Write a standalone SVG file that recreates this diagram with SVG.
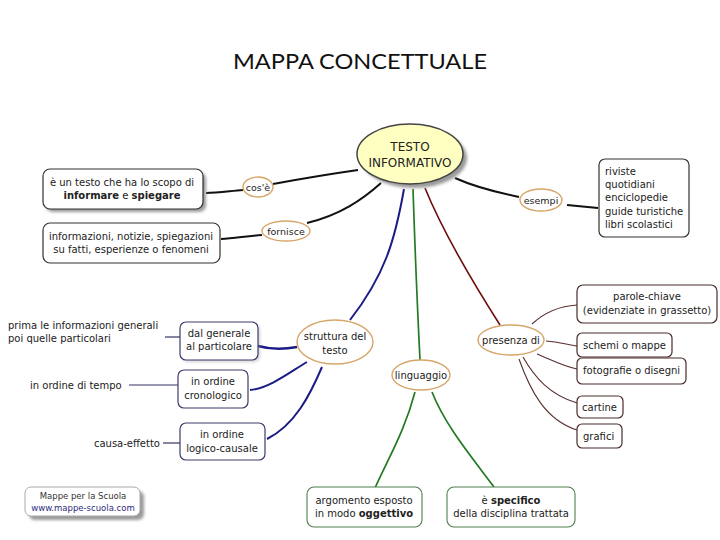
<svg xmlns="http://www.w3.org/2000/svg" width="720" height="540" viewBox="0 0 720 540">
<defs>
<filter id="blur" x="-20%" y="-20%" width="140%" height="140%"><feGaussianBlur stdDeviation="1.6"/></filter>
<style>
text{font-family:"DejaVu Sans",Verdana,sans-serif;font-size:10px;fill:#222}
.c{text-anchor:middle}
.b{font-weight:bold}
.title{font-family:Lato,"Liberation Sans",Arial,sans-serif;font-size:22px;fill:#111;text-anchor:middle}
.lbl{fill:#fff;stroke:#d6a66a;stroke-width:1.4}
.blk{fill:#fff;stroke:#333;stroke-width:1.2}
.blu{fill:#fff;stroke:#3c3c6c;stroke-width:1.2}
.brn{fill:#fff;stroke:#4a2c2c;stroke-width:1.2}
.grn{fill:#fff;stroke:#4f7f4f;stroke-width:1.1}
.shd{fill:#9a9a9a;filter:url(#blur)}
#connectors path{fill:none}
.kb{stroke:#111;stroke-width:2}
.kblue{stroke:#1c1c86;stroke-width:2}
.kgreen{stroke:#237a23;stroke-width:1.7}
.kred{stroke:#6e0c0c;stroke-width:1.6}
.kbrown{stroke:#5a2e2e;stroke-width:1.1}
.kthin{stroke:#333366;stroke-width:1.2}
</style>
</defs>
<rect width="720" height="540" fill="#fff"/>
<text class="title" x="360" y="69" textLength="254" lengthAdjust="spacingAndGlyphs">MAPPA CONCETTUALE</text>

<g id="connectors">
<path class="kb" d="M358,170 C330,174 300,179 273,184"/>
<path class="kb" d="M243,190 C230,191 218,193 206,193"/>
<path class="kb" d="M381,183 C362,200 340,215 307,223"/>
<path class="kb" d="M262,235 C248,236 235,238 221,239"/>
<path class="kb" d="M455,178 C475,187 495,192 519,197"/>
<path class="kb" d="M567,205 C578,206 588,207 598,208"/>
<path class="kblue" d="M404,189 C395,240 385,275 350,320"/>
<path class="kblue" style="stroke-width:2.6" d="M297,347 Q276,351 258,346"/>
<path class="kblue" d="M307,362 C290,372 270,388 250,390"/>
<path class="kblue" d="M322,367 C310,395 295,425 267,439"/>
<path class="kgreen" d="M413,189 Q416,280 420,360"/>
<path class="kgreen" d="M415,392 C405,430 390,455 375,488"/>
<path class="kgreen" d="M432,392 C445,425 470,455 494,487"/>
<path class="kred" d="M425,188 C440,225 465,270 500,325"/>
<path class="kbrown" d="M532,324 C545,312 560,306 577,305"/>
<path class="kbrown" d="M546,341 C560,342 568,345 577,346"/>
<path class="kbrown" d="M537,354 C552,360 562,366 577,369"/>
<path class="kbrown" d="M523,357 C535,378 550,395 577,403"/>
<path class="kbrown" d="M519,359 C530,390 545,420 577,430"/>
<path class="kthin" d="M165,337 L180,337"/>
<path class="kthin" d="M129,385 L178,385"/>
<path class="kthin" d="M163,443 L180,443"/>
</g>

<g id="testo-informativo">
<ellipse class="shd" cx="414" cy="158" rx="53" ry="30"/>
<ellipse cx="410" cy="154" rx="53" ry="30" fill="#ffffc2" stroke="#444" stroke-width="1.5"/>
<text class="c" x="410" y="151" style="font-size:12px">TESTO</text>
<text class="c" x="410" y="167" style="font-size:12px">INFORMATIVO</text>
</g>

<g id="cose">
<ellipse class="lbl" cx="258" cy="187" rx="15" ry="10"/>
<text class="c" x="258" y="191" style="font-size:9.5px">cos'è</text>
</g>
<g id="box-scopo">
<rect class="shd" x="46" y="172" width="160" height="40" rx="7"/>
<rect class="blk" x="43" y="169" width="160" height="40" rx="7"/>
<text class="c" x="122" y="186">è un testo che ha lo scopo di</text>
<text class="c" x="122" y="199"><tspan class="b">informare</tspan> e <tspan class="b">spiegare</tspan></text>
</g>

<g id="fornisce">
<ellipse class="lbl" cx="286" cy="231" rx="24" ry="10"/>
<text class="c" x="286" y="235" style="font-size:9.5px">fornisce</text>
</g>
<g id="box-informazioni">
<rect class="blk" x="43" y="223" width="177" height="40" rx="7"/>
<text class="c" x="131" y="240">informazioni, notizie, spiegazioni</text>
<text class="c" x="131" y="253">su fatti, esperienze o fenomeni</text>
</g>

<g id="esempi">
<ellipse class="lbl" cx="541" cy="200" rx="21" ry="11"/>
<text class="c" x="541" y="204" style="font-size:9.5px">esempi</text>
</g>
<g id="box-esempi">
<rect class="blk" x="599" y="159" width="90" height="78" rx="6"/>
<text x="605" y="175">riviste</text>
<text x="605" y="188">quotidiani</text>
<text x="605" y="201">enciclopedie</text>
<text x="605" y="215">guide turistiche</text>
<text x="605" y="228">libri scolastici</text>
</g>

<g id="struttura">
<ellipse class="lbl" cx="335" cy="342" rx="38" ry="22"/>
<text class="c" x="335" y="340">struttura del</text>
<text class="c" x="335" y="354">testo</text>
</g>
<g id="box-generale">
<rect class="shd" x="182" y="324" width="78" height="38" rx="6" style="opacity:.45"/>
<rect class="blu" x="180" y="322" width="78" height="38" rx="6"/>
<text class="c" x="219" y="337">dal generale</text>
<text class="c" x="219" y="350">al particolare</text>
</g>
<g id="box-cronologico">
<rect class="blu" x="178" y="370" width="70" height="38" rx="6"/>
<text class="c" x="213" y="385">in ordine</text>
<text class="c" x="213" y="399">cronologico</text>
</g>
<g id="box-logico">
<rect class="blu" x="180" y="423" width="85" height="37" rx="6"/>
<text class="c" x="222" y="438">in ordine</text>
<text class="c" x="222" y="452">logico-causale</text>
</g>
<g id="txt-prima">
<text x="8" y="329">prima le informazioni generali</text>
<text x="8" y="342">poi quelle particolari</text>
</g>
<g id="txt-tempo">
<text x="30" y="389">in ordine di tempo</text>
</g>
<g id="txt-causa">
<text x="160" y="447" style="text-anchor:end">causa-effetto</text>
</g>

<g id="linguaggio">
<ellipse class="lbl" cx="421" cy="375" rx="29" ry="15"/>
<text class="c" x="421" y="379">linguaggio</text>
</g>
<g id="box-oggettivo">
<rect class="grn" x="307" y="487" width="115" height="40" rx="7"/>
<text class="c" x="364" y="504">argomento esposto</text>
<text class="c" x="364" y="517">in modo <tspan class="b">oggettivo</tspan></text>
</g>
<g id="box-specifico">
<rect class="grn" x="447" y="487" width="128" height="40" rx="7"/>
<text class="c" x="511" y="504">è <tspan class="b">specifico</tspan></text>
<text class="c" x="511" y="517">della disciplina trattata</text>
</g>

<g id="presenza">
<ellipse class="lbl" cx="511" cy="340" rx="33" ry="15"/>
<text class="c" x="511" y="344">presenza di</text>
</g>
<g id="box-parole">
<rect class="brn" x="577" y="285" width="140" height="38" rx="6"/>
<text class="c" x="647" y="300">parole-chiave</text>
<text class="c" x="647" y="314">(evidenziate in grassetto)</text>
</g>
<g id="box-schemi">
<rect class="brn" x="577" y="333" width="95" height="24" rx="5"/>
<text x="583" y="349">schemi o mappe</text>
</g>
<g id="box-fotografie">
<rect class="brn" x="577" y="358" width="109" height="26" rx="5"/>
<text x="583" y="374">fotografie o disegni</text>
</g>
<g id="box-cartine">
<rect class="brn" x="577" y="396" width="46" height="22" rx="5"/>
<text x="582" y="411">cartine</text>
</g>
<g id="box-grafici">
<rect class="brn" x="577" y="424" width="45" height="24" rx="5"/>
<text x="583" y="440">grafici</text>
</g>

<g id="mappe-scuola">
<rect class="shd" x="29" y="491" width="115" height="29" rx="6"/>
<rect x="25" y="487" width="115" height="29" rx="6" fill="#fff" stroke="#aaa" stroke-width="1"/>
<text class="c" x="83" y="499" style="font-size:8.5px;fill:#333">Mappe per la Scuola</text>
<text class="c" x="83" y="511" style="font-size:8.5px;fill:#2b2b7e">www.mappe-scuola.com</text>
</g>
</svg>
